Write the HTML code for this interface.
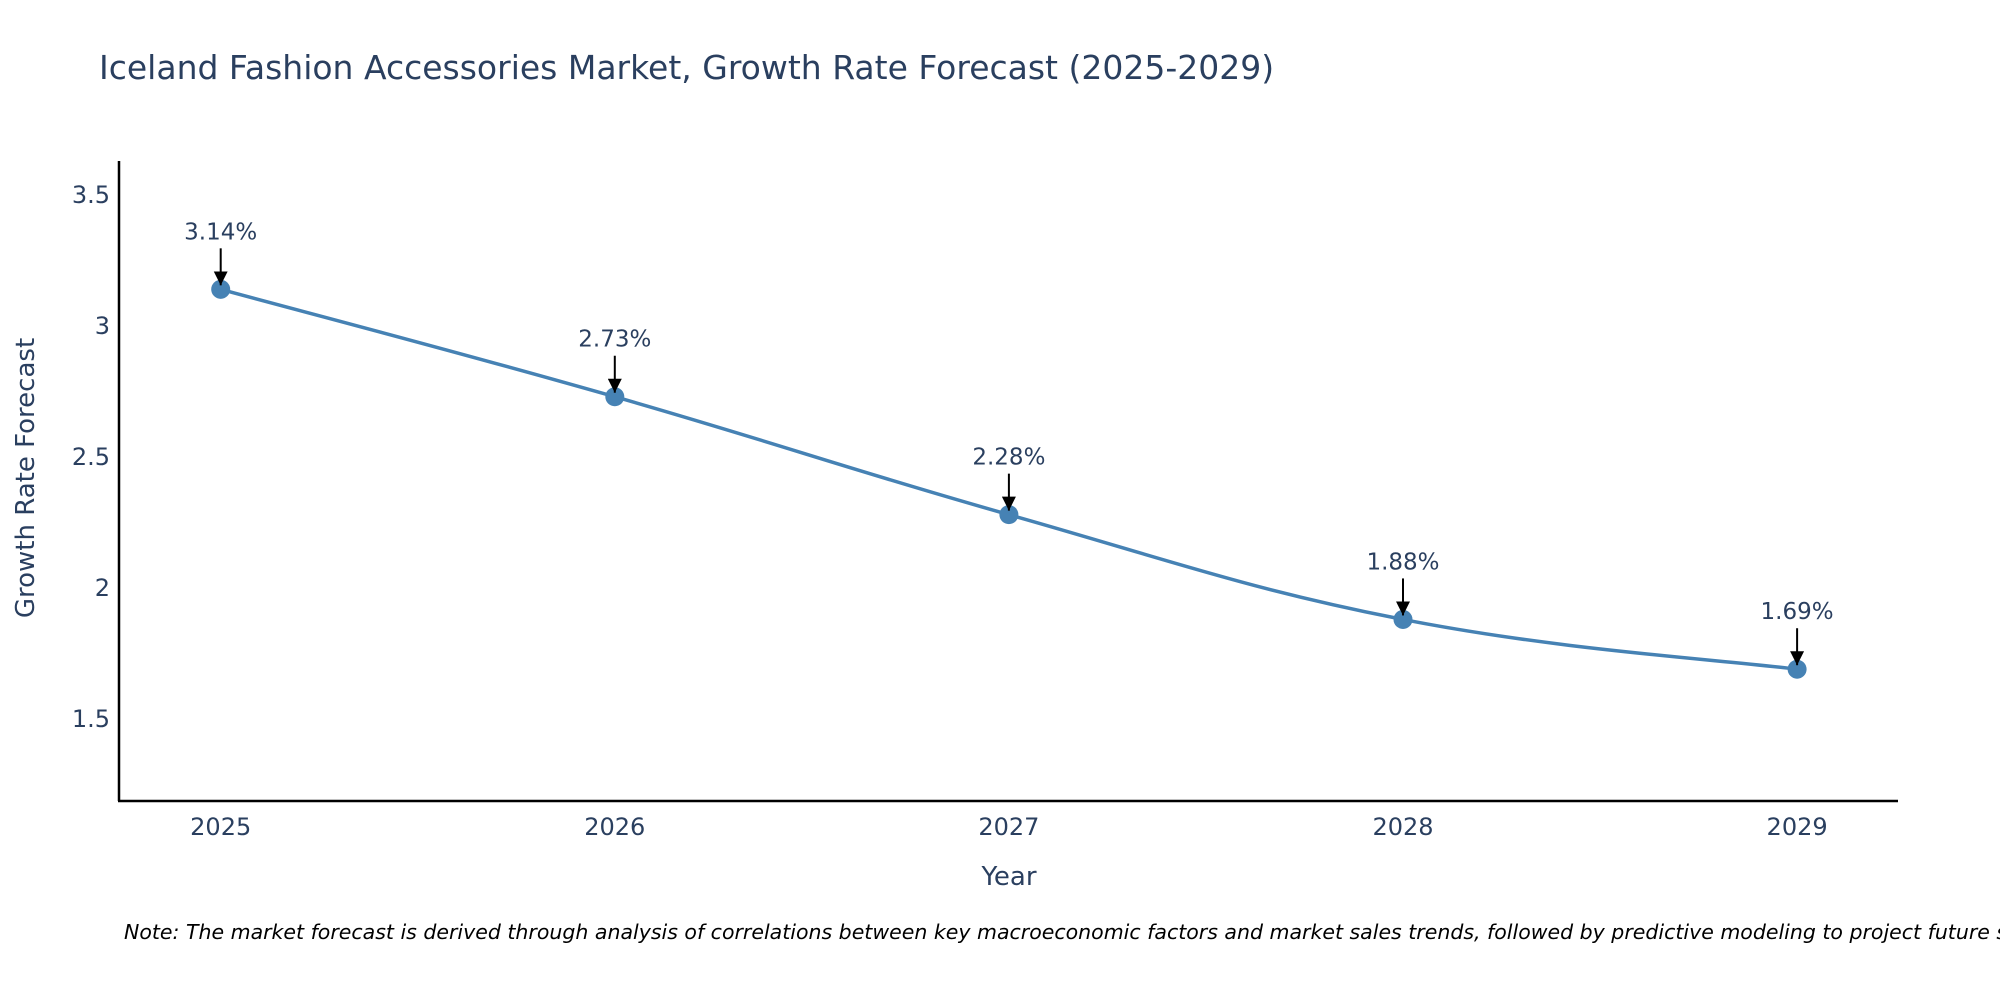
<!DOCTYPE html>
<html><head><meta charset="utf-8"><style>
body{margin:0;background:#fff;}
svg{display:block;font-family:"DejaVu Sans","Liberation Sans",sans-serif;}
</style></head><body>
<svg id="chart" width="2000" height="1000" viewBox="0 0 2000 1000">
<defs><marker id="ah" viewBox="0 0 10 10" refX="10" refY="5" markerWidth="7" markerHeight="7" orient="auto" markerUnits="strokeWidth"><path d="M0,0 L10,5 L0,10 z" fill="#000"/></marker></defs>
<text x="99" y="79" font-size="33" fill="#2a3f5f">Iceland Fashion Accessories Market, Growth Rate Forecast (2025-2029)</text>
<g id="yticks"></g><g id="xticks"></g>
<line x1="119" y1="161" x2="119" y2="801" stroke="#000" stroke-width="2.5"/>
<line x1="118" y1="801" x2="1898" y2="801" stroke="#000" stroke-width="2.5"/>
<path id="line" fill="none" stroke="#4682b4" stroke-width="3.5"/>
<g id="points"></g>
<text transform="translate(34,478) rotate(-90)" text-anchor="middle" font-size="26" fill="#2a3f5f">Growth Rate Forecast</text>
<text x="1009" y="885" text-anchor="middle" font-size="26" fill="#2a3f5f">Year</text>
<text x="124" y="939" font-size="20.5" font-style="italic" fill="#000">Note: The market forecast is derived through analysis of correlations between key macroeconomic factors and market sales trends, followed by predictive modeling to project future sales.</text>
</svg>
<script>
const years=[2025,2026,2027,2028,2029];
const values=[3.14,2.73,2.28,1.88,1.69];
const yTicks=[1.5,2,2.5,3,3.5];
const yTickLabels=["1.5","2","2.5","3","3.5"];
const NS="http://www.w3.org/2000/svg";
const X=v=>220.7+(v-2025)*394.1;
const Y=v=>719-(v-1.5)*262;
function mk(t,a,p){const e=document.createElementNS(NS,t);for(const k in a)e.setAttribute(k,a[k]);p.appendChild(e);return e;}
const yt=document.getElementById('yticks');
yTicks.forEach((v,i)=>{const t=mk('text',{x:110,y:Y(v)+8,'text-anchor':'end','font-size':24,fill:'#2a3f5f'},yt);t.textContent=yTickLabels[i];

});
const xt=document.getElementById('xticks');
years.forEach(v=>{const t=mk('text',{x:X(v),y:835,'text-anchor':'middle','font-size':24,fill:'#2a3f5f'},xt);t.textContent=String(v);

});
const pts=years.map((y,i)=>[X(y),Y(values[i])]);
let d='M'+pts[0][0]+','+pts[0][1];
for(let i=0;i<pts.length-1;i++){const p0=pts[Math.max(0,i-1)],p1=pts[i],p2=pts[i+1],p3=pts[Math.min(pts.length-1,i+2)];const s=0.2;
d+=` C${p1[0]+(p2[0]-p0[0])*s},${p1[1]+(p2[1]-p0[1])*s} ${p2[0]-(p3[0]-p1[0])*s},${p2[1]-(p3[1]-p1[1])*s} ${p2[0]},${p2[1]}`;}
document.getElementById('line').setAttribute('d',d);
const pg=document.getElementById('points');
pts.forEach((p,i)=>{
const c=mk('circle',{cx:p[0],cy:p[1],r:9.5,fill:'#4682b4'},pg);


const a=mk('line',{x1:p[0],y1:p[1]-41,x2:p[0],y2:p[1]-4,stroke:'#000','stroke-width':2,'marker-end':'url(#ah)'},pg);


const t=mk('text',{x:p[0],y:p[1]-50,'text-anchor':'middle','font-size':23,fill:'#2a3f5f'},pg);t.textContent=values[i].toFixed(2)+'%';


});
</script>
</body></html>
